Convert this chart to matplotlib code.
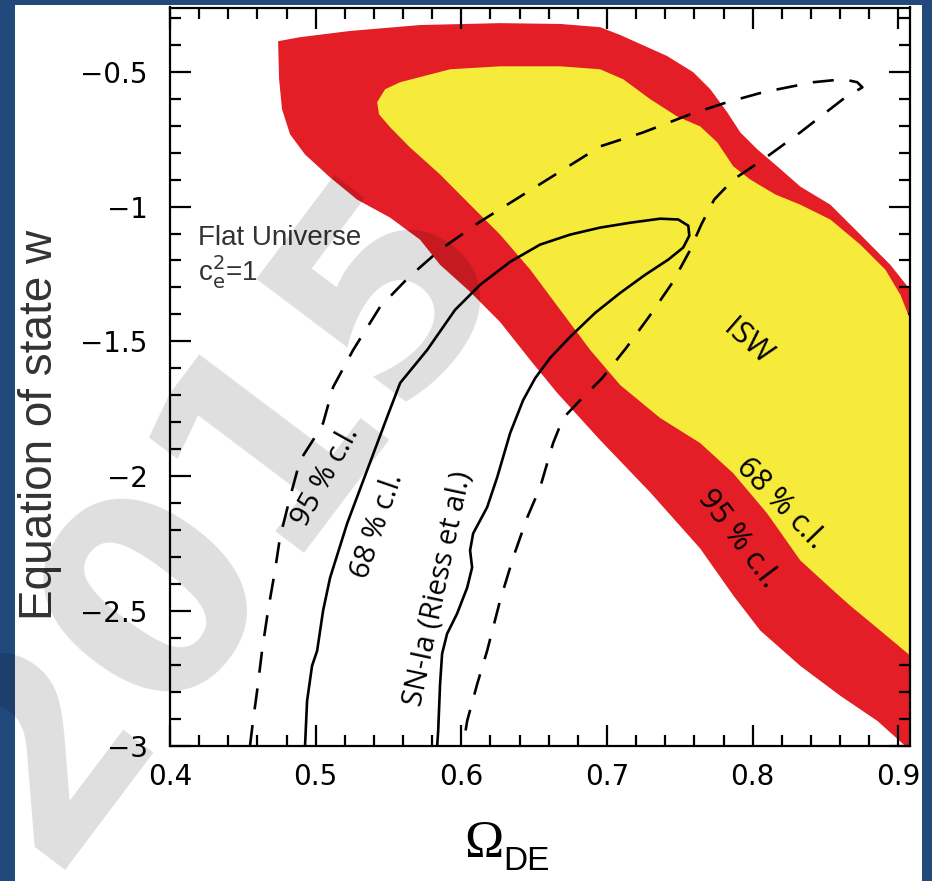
import matplotlib
matplotlib.use("Agg")
import matplotlib.pyplot as plt
from matplotlib.patches import Rectangle, Polygon

# --- data (in data coordinates Omega_DE, w) ---
# ISW 95% region (red)
isw95_x = [0.4742, 0.4893, 0.5236, 0.5717, 0.6266, 0.6679, 0.6953, 0.7091, 0.7413, 0.7592,
           0.7709, 0.7826, 0.7915, 0.8032, 0.8169, 0.8327, 0.8533, 0.8739, 0.8945, 0.9082,
           0.922, 0.922, 0.9048, 0.8856, 0.8602, 0.8327, 0.8052, 0.7867, 0.7640, 0.7297,
           0.6953, 0.6658, 0.6473, 0.6266, 0.6060, 0.5854, 0.5717, 0.5511, 0.5284, 0.5099,
           0.4927, 0.4824, 0.4769, 0.4749]
isw95_y = [-0.387, -0.372, -0.349, -0.327, -0.320, -0.323, -0.335, -0.364, -0.442, -0.502,
           -0.565, -0.651, -0.725, -0.788, -0.851, -0.926, -0.993, -1.104, -1.216, -1.309,
           -1.309, -3.056, -3.000, -2.907, -2.814, -2.703, -2.572, -2.442, -2.268, -2.060,
           -1.866, -1.691, -1.569, -1.428, -1.316, -1.216, -1.123, -1.041, -0.974, -0.892,
           -0.807, -0.732, -0.639, -0.528]

# ISW 68% region (yellow)
isw68_x = [0.5422, 0.5477, 0.5580, 0.5923, 0.6266, 0.6679, 0.6953, 0.7111, 0.7297, 0.7482,
           0.7640, 0.7757, 0.7867, 0.7984, 0.8155, 0.8327, 0.8533, 0.8739, 0.8911, 0.9014,
           0.9082, 0.922, 0.922, 0.9082, 0.8876, 0.8670, 0.8554, 0.8327, 0.8100, 0.7867,
           0.7640, 0.7365, 0.7091, 0.6885, 0.6679, 0.6473, 0.6266, 0.6060, 0.5854, 0.5648,
           0.5511, 0.5435]
isw68_y = [-0.613, -0.565, -0.539, -0.491, -0.480, -0.480, -0.491, -0.528, -0.602, -0.666,
           -0.703, -0.762, -0.851, -0.900, -0.955, -0.993, -1.048, -1.141, -1.234, -1.327,
           -1.420, -1.420, -2.665, -2.665, -2.572, -2.480, -2.424, -2.312, -2.138, -1.989,
           -1.877, -1.784, -1.662, -1.532, -1.383, -1.234, -1.104, -0.993, -0.881, -0.781,
           -0.706, -0.658]

# SN-Ia 68% contour (solid)
sn68_x = [0.4927, 0.4941, 0.4975, 0.5010, 0.5051, 0.5099, 0.5216, 0.5353, 0.5490, 0.5580,
          0.5765, 0.5957, 0.6129, 0.6335, 0.6541, 0.6747, 0.6953, 0.7159, 0.7365, 0.7489,
          0.7558, 0.7565, 0.7523, 0.7420, 0.7262, 0.7091, 0.6919, 0.6747, 0.6610, 0.6507,
          0.6424, 0.6335, 0.6246, 0.6177, 0.6081, 0.6060, 0.6074, 0.6040, 0.5971, 0.5902,
          0.5868, 0.5854, 0.5841, 0.5834]
sn68_y = [-3.000, -2.833, -2.703, -2.647, -2.498, -2.376, -2.175, -1.978, -1.781, -1.654,
          -1.532, -1.383, -1.290, -1.205, -1.141, -1.104, -1.078, -1.060, -1.045, -1.048,
          -1.071, -1.108, -1.152, -1.197, -1.253, -1.320, -1.394, -1.483, -1.561, -1.636,
          -1.718, -1.840, -2.004, -2.115, -2.212, -2.275, -2.338, -2.413, -2.509, -2.584,
          -2.658, -2.770, -2.944, -3.000]

# SN-Ia 95% contour (dashed)
sn95_x = [0.4549, 0.4570, 0.4598, 0.4632, 0.4673, 0.4721, 0.4755, 0.4824, 0.4893, 0.4982,
          0.5051, 0.5120, 0.5257, 0.5442, 0.5635, 0.5854, 0.6129, 0.6404, 0.6679, 0.6953,
          0.7249, 0.7571, 0.7826, 0.8073, 0.8416, 0.8622, 0.8718, 0.8753, 0.8636, 0.8327,
          0.8073, 0.7867, 0.7736, 0.7647, 0.7565, 0.7448, 0.7297, 0.7132, 0.6967, 0.6816,
          0.6699, 0.6630, 0.6541, 0.6452, 0.6356, 0.6266, 0.6177, 0.6109, 0.6040, 0.6012]
sn95_y = [-3.000, -2.907, -2.796, -2.647, -2.498, -2.349, -2.227, -2.078, -1.941, -1.866,
          -1.803, -1.669, -1.532, -1.372, -1.264, -1.160, -1.056, -0.963, -0.870, -0.777,
          -0.725, -0.658, -0.613, -0.576, -0.539, -0.528, -0.539, -0.558, -0.595, -0.725,
          -0.825, -0.900, -0.974, -1.067, -1.167, -1.283, -1.402, -1.524, -1.636, -1.718,
          -1.784, -1.877, -2.041, -2.153, -2.301, -2.461, -2.647, -2.770, -2.907, -3.000]

xticks = [0.4, 0.5, 0.6, 0.7, 0.8, 0.9]
xtick_labels = ["0.4", "0.5", "0.6", "0.7", "0.8", "0.9"]
yticks = [-3, -2.5, -2, -1.5, -1, -0.5]
ytick_labels = ["\u22123", "\u22122.5", "\u22122", "\u22121.5", "\u22121", "\u22120.5"]

RED = "#e31e26"
YELLOW = "#f6ea3a"

fig = plt.figure(figsize=(9.32, 8.81), dpi=100)
fig.patch.set_facecolor("#21497c")
# white slide panel
fig.patches.append(Rectangle((15 / 932, 0), (922 - 15) / 932, 876 / 881,
                             transform=fig.transFigure, facecolor="white",
                             edgecolor="none", zorder=-10))

ax = fig.add_axes([170 / 932, 1 - 746 / 881, 740 / 932, (746 - 7.5) / 881])
ax.set_zorder(1)
ax.set_xlim(0.4, 0.908)
ax.set_ylim(-3, -0.262)
ax.patch.set_alpha(0)

ax.add_patch(Polygon(list(zip(isw95_x, isw95_y)), closed=True, facecolor=RED,
                     edgecolor="none", zorder=1))
ax.add_patch(Polygon(list(zip(isw68_x, isw68_y)), closed=True, facecolor=YELLOW,
                     edgecolor="none", zorder=2))

ax.plot(sn68_x, sn68_y, color="black", lw=1.9, zorder=3, solid_capstyle="butt")
ax.plot(sn95_x, sn95_y, color="black", lw=1.9, zorder=3, dashes=(8, 6))

# labels inside the plot (placed in pixel units of the original picture)
lab_font = "Open Sans"
def px(x, y):
    return (0.4 + (x - 170) / 1456, -3 + (745 - y) / 269)

ax.text(*px(198, 245), "Flat Universe", fontsize=20, family="Liberation Sans",
        color="#333333", ha="left", va="baseline")
ax.text(*px(198, 281), "c$_{\\rm e}^{2}$=1", fontsize=20, family="Liberation Sans",
        color="#333333", ha="left", va="baseline")
ax.text(*px(326, 476), "95 % c.l.", fontsize=21, family=lab_font, rotation=61,
        ha="center", va="center", rotation_mode="anchor")
ax.text(*px(378, 525), "68 % c.l.", fontsize=21, family=lab_font, rotation=71,
        ha="center", va="center", rotation_mode="anchor")
ax.text(*px(438, 588), "SN-Ia (Riess et al.)", fontsize=21, family=lab_font, rotation=78,
        ha="center", va="center", rotation_mode="anchor")
ax.text(*px(747, 343), "ISW", fontsize=22, family=lab_font, rotation=-41,
        ha="center", va="center", rotation_mode="anchor")
ax.text(*px(780, 503), "68 % c.l.", fontsize=22, family=lab_font, rotation=-46,
        ha="center", va="center", rotation_mode="anchor")
ax.text(*px(738, 538), "95 % c.l.", fontsize=22, family=lab_font, rotation=-53,
        ha="center", va="center", rotation_mode="anchor")

# axes styling
for s in ax.spines.values():
    s.set_linewidth(1.6)
    s.set_zorder(5)
ax.set_xticks(xticks)
ax.set_xticklabels(xtick_labels)
ax.set_yticks(yticks)
ax.set_yticklabels(ytick_labels)
ax.set_xticks([0.4 + 0.02 * i for i in range(26)], minor=True)
ax.set_yticks([-3 + 0.1 * i for i in range(28)], minor=True)
ax.tick_params(which="both", direction="in", top=True, right=True, width=1.6,
               labelsize=20, zorder=6)
ax.tick_params(which="major", length=15)
ax.tick_params(which="minor", length=8)
ax.tick_params(axis="y", pad=16)
ax.tick_params(axis="x", pad=12)
for t in ax.get_xticklabels() + ax.get_yticklabels():
    t.set_family("DejaVu Sans")

fig.text(40 / 932, 1 - 425 / 881, "Equation of state w", rotation=90, fontsize=33,
         family="Liberation Sans", color="#333333", ha="center", va="center")
fig.text(484 / 932, 1 - 844 / 881, "\u03a9", fontsize=38, family="Liberation Serif",
         ha="center", va="center")
fig.text(503 / 932, 1 - 861 / 881, "DE", fontsize=24, family="Liberation Sans",
         ha="left", va="center")

# watermark
fig.text(215 / 932, 1 - 515 / 881, "2015", fontsize=200, fontweight="bold",
         family="DejaVu Sans", rotation=53, color="black", alpha=0.13,
         ha="center", va="center", zorder=20)

fig.savefig("out.png", dpi=100)
